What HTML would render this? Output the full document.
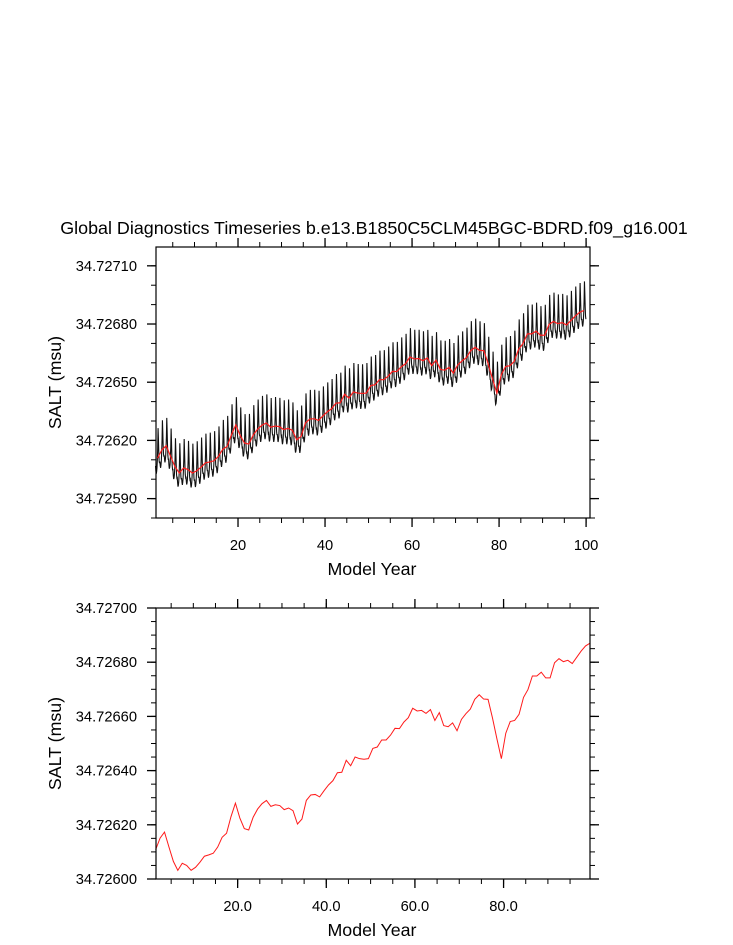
<!DOCTYPE html>
<html><head><meta charset="utf-8"><style>
body{margin:0;background:#fff;}
svg{display:block;font-family:"Liberation Sans",sans-serif;}
</style></head><body>
<svg id="c" width="733" height="945" viewBox="0 0 733 945"></svg>
<script>
// Annual means (units of 1e-5 above 34.726), years 1.5..99.5
const annualValues=[10.8,15.1,17.3,11.8,6.5,3.2,5.8,5.0,3.2,4.3,
6.2,8.4,8.9,9.5,11.8,15.4,16.9,23.0,28.0,22.5,
18.6,18.1,22.8,25.8,27.8,29.0,26.8,27.4,27.1,25.6,
26.2,25.2,20.3,22.1,29.0,31.0,31.2,30.3,32.6,34.7,
36.3,39.2,39.4,43.8,41.8,45.0,44.4,44.2,44.4,48.2,
48.7,51.3,51.3,53.1,55.6,55.5,57.9,59.5,63.0,62.0,
62.2,61.1,62.5,58.5,61.4,56.6,56.2,57.6,54.7,58.9,
61.0,62.7,66.3,68.0,66.4,66.3,59.4,51.7,44.4,53.8,
58.1,58.5,60.8,67.0,69.9,74.9,74.9,76.3,74.2,74.2,
79.8,81.3,80.2,80.7,79.5,81.8,84.1,86.0,87.0];
// Monthly anomaly cycle (1e-5)
const seasonalCycle=[-4,-6.5,-8,-7,-5,-1,5,15,9,2,-3,-4.5];
const topYTicks=[34.72590,34.72620,34.72650,34.72680,34.72710];
const topYLabels=["34.72590","34.72620","34.72650","34.72680","34.72710"];
const topXTicks=[20,40,60,80,100];
const topXLabels=["20","40","60","80","100"];
const botYTicks=[34.72600,34.72620,34.72640,34.72660,34.72680,34.72700];
const botYLabels=["34.72600","34.72620","34.72640","34.72660","34.72680","34.72700"];
const botXTicks=[20,40,60,80];
const botXLabels=["20.0","40.0","60.0","80.0"];

const svg=document.getElementById('c');
const NS='http://www.w3.org/2000/svg';
function mk(tag,attrs,parent){const e=document.createElementNS(NS,tag);for(const k in attrs)e.setAttribute(k,attrs[k]);(parent||svg).appendChild(e);return e;}

function panel(o){
  const g=mk('g',{});
  
  
  const X=v=>o.L+(v-o.x0)/(o.x1-o.x0)*(o.R-o.L);
  const Y=v=>o.B-(v-o.y0)/(o.y1-o.y0)*(o.B-o.T);
  o.series(g,X,Y);
  const fr=mk('rect',{x:o.L,y:o.T,width:o.R-o.L,height:o.B-o.T,fill:'none',stroke:'#000','stroke-width':1.2},g);
  
  for(let v=Math.ceil(o.x0/o.xm)*o.xm;v<=o.x1;v+=o.xm){const x=X(v);
    mk('line',{x1:x,x2:x,y1:o.B,y2:o.B+5,stroke:'#000','stroke-width':1},g);
    mk('line',{x1:x,x2:x,y1:o.T,y2:o.T-5,stroke:'#000','stroke-width':1},g);}
  for(let i=0;;i++){const v=o.y0+i*o.ym;if(v>o.y1+1e-9)break;const y=Y(v);
    mk('line',{x1:o.L-5,x2:o.L,y1:y,y2:y,stroke:'#000','stroke-width':1},g);
    mk('line',{x1:o.R,x2:o.R+5,y1:y,y2:y,stroke:'#000','stroke-width':1},g);}
  o.xt.forEach((v,i)=>{const x=X(v);
    mk('line',{x1:x,x2:x,y1:o.B,y2:o.B+9,stroke:'#000','stroke-width':1.3},g);
    mk('line',{x1:x,x2:x,y1:o.T,y2:o.T-9,stroke:'#000','stroke-width':1.3},g);
    const t=mk('text',{x:x,y:o.B+32,'text-anchor':'middle','font-size':14.7},g);t.textContent=o.xl[i];
    });
  o.yt.forEach((v,i)=>{const y=Y(v);
    mk('line',{x1:o.L-9,x2:o.L,y1:y,y2:y,stroke:'#000','stroke-width':1.3},g);
    mk('line',{x1:o.R,x2:o.R+9,y1:y,y2:y,stroke:'#000','stroke-width':1.3},g);
    const t=mk('text',{x:o.L-19,y:y+5,'text-anchor':'end','font-size':14.7},g);t.textContent=o.yl[i];
    });
  const xt=mk('text',{x:(o.L+o.R)/2-1,y:o.B+57,'text-anchor':'middle','font-size':17.8},g);xt.textContent='Model Year';
  
  const cy=(o.T+o.B)/2;
  const yt=mk('text',{x:61,y:cy,'text-anchor':'middle','font-size':17.8,transform:`rotate(-90 61 ${cy})`},g);yt.textContent='SALT (msu)';
  
}

const base=34.726;
panel({name:'monthly-panel',L:156,R:590,T:247,B:518,x0:1.15,x1:100.9,y0:34.7258,y1:34.727197,
  xt:topXTicks,xl:topXLabels,xm:5,yt:topYTicks,yl:topYLabels,ym:0.0001,
  series:(g,X,Y)=>{
    let d='';const n=annualValues.length;
    for(let yr=0;yr<n;yr++){for(let m=0;m<12;m++){
      const t=1+yr+(m+0.5)/12;
      const p=t-1.5;let i=Math.floor(p);let f=p-i;if(i<0){i=0;f=0;}if(i>=n-1){i=n-2;f=1;}
      const mean=annualValues[i]*(1-f)+annualValues[i+1]*f;
      const v=base+(mean+seasonalCycle[m])*1e-5;
      d+=(d?'L':'M')+X(t).toFixed(2)+' '+Y(v).toFixed(2);}}
    const bl=mk('path',{d:d,fill:'none',stroke:'#111','stroke-width':1.1},g);
    
    let d2='';annualValues.forEach((v,i)=>{d2+=(i?'L':'M')+X(1.5+i).toFixed(2)+' '+Y(base+v*1e-5).toFixed(2);});
    const rl=mk('path',{d:d2,fill:'none',stroke:'#ff1a1a','stroke-width':1.2},g);
    
  }});
panel({name:'annual-panel',L:156,R:590,T:608,B:879,x0:1.58,x1:99.5,y0:34.726,y1:34.727,
  xt:botXTicks,xl:botXLabels,xm:5,yt:botYTicks,yl:botYLabels,ym:0.00005,
  series:(g,X,Y)=>{
    let d2='';annualValues.forEach((v,i)=>{d2+=(i?'L':'M')+X(1.5+i).toFixed(2)+' '+Y(base+v*1e-5).toFixed(2);});
    const rl=mk('path',{d:d2,fill:'none',stroke:'#ff1a1a','stroke-width':1},g);
    
  }});
const title=mk('text',{x:374,y:234,'text-anchor':'middle','font-size':17.9});
title.textContent='Global Diagnostics Timeseries b.e13.B1850C5CLM45BGC-BDRD.f09_g16.001';


</script>
</body></html>
